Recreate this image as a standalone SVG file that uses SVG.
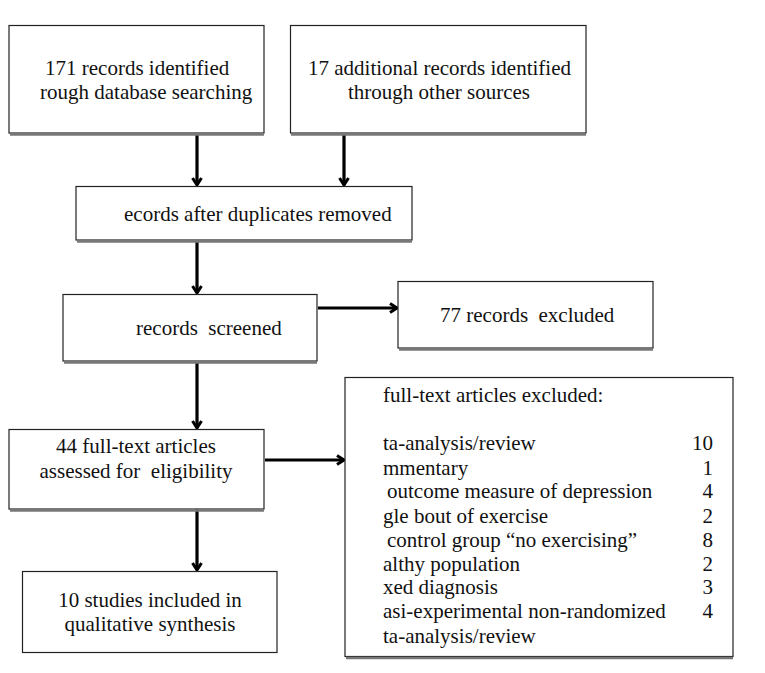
<svg xmlns="http://www.w3.org/2000/svg" width="765" height="673" viewBox="0 0 765 673">
<style>
.box{fill:#fff;stroke:#222;stroke-width:1.2}
.sh{stroke:#777;stroke-width:2.5}
.t{font-family:"Liberation Serif","Times New Roman",serif;font-size:21px;fill:#111;white-space:pre}
.c{text-anchor:middle}
.r{text-anchor:end}
.con{stroke:#000;stroke-width:3.2;fill:none}
</style>
<defs>
<marker id="ah" markerWidth="12" markerHeight="12" refX="9" refY="6" orient="auto" markerUnits="userSpaceOnUse">
<path d="M2,1.5 L9,6 L2,10.5" fill="none" stroke="#000" stroke-width="3"/>
</marker>
</defs>
<g id="connectors">
<line class="con" x1="197" y1="134" x2="197" y2="185" marker-end="url(#ah)"/>
<line class="con" x1="344" y1="134" x2="344" y2="185" marker-end="url(#ah)"/>
<line class="con" x1="197" y1="241" x2="197" y2="293" marker-end="url(#ah)"/>
<line class="con" x1="318" y1="308" x2="397" y2="308" marker-end="url(#ah)"/>
<line class="con" x1="197" y1="362" x2="197" y2="428" marker-end="url(#ah)"/>
<line class="con" x1="265" y1="460" x2="344" y2="460" marker-end="url(#ah)"/>
<line class="con" x1="197" y1="505" x2="197" y2="570" marker-end="url(#ah)"/>
</g>
<g id="n1">
<rect class="box" x="9" y="25.5" width="255" height="107.5"/>
<line class="sh" x1="10" y1="134.5" x2="264" y2="134.5"/>
<text class="t" x="45" y="75">171 records identified</text>
<text class="t" x="40" y="99">rough database searching</text>
</g>
<g id="n2">
<rect class="box" x="290.5" y="25.5" width="295.5" height="107.5"/>
<line class="sh" x1="291" y1="134.5" x2="586" y2="134.5"/>
<text class="t" x="308" y="75">17 additional records identified</text>
<text class="t" x="348" y="99">through other sources</text>
</g>
<g id="n3">
<rect class="box" x="76" y="186.5" width="336" height="53.5"/>
<line class="sh" x1="77" y1="241.5" x2="412" y2="241.5"/>
<text class="t" x="124" y="221">ecords after duplicates removed</text>
</g>
<g id="n4">
<rect class="box" x="63" y="294.5" width="254" height="66.5"/>
<line class="sh" x1="64" y1="362.5" x2="317" y2="362.5"/>
<text class="t" x="136" y="335">records  screened</text>
</g>
<g id="n5">
<rect class="box" x="398" y="281.5" width="255" height="66.5"/>
<line class="sh" x1="399" y1="349.5" x2="653" y2="349.5"/>
<text class="t" x="440" y="322">77 records  excluded</text>
</g>
<g id="n6">
<rect class="box" x="9" y="429.5" width="255" height="79.5"/>
<line class="sh" x1="10" y1="510.5" x2="264" y2="510.5"/>
<text class="t c" x="136" y="453">44 full-text articles</text>
<text class="t c" x="136" y="478">assessed for  eligibility</text>
</g>
<g id="n7">
<rect class="box" x="345" y="377.5" width="388" height="279"/>
<line class="sh" x1="346" y1="658" x2="733" y2="658"/>
<text class="t" x="383" y="402">full-text articles excluded:</text>
<text class="t" x="383" y="450">ta-analysis/review</text>
<text class="t" x="383" y="475">mmentary</text>
<text class="t" x="387" y="498">outcome measure of depression</text>
<text class="t" x="383" y="523">gle bout of exercise</text>
<text class="t" x="387" y="547">control group “no exercising”</text>
<text class="t" x="383" y="571">althy population</text>
<text class="t" x="383" y="594">xed diagnosis</text>
<text class="t" x="383" y="618">asi-experimental non-randomized</text>
<text class="t" x="383" y="643">ta-analysis/review</text>
<text class="t r" x="713" y="450">10</text>
<text class="t r" x="713" y="475">1</text>
<text class="t r" x="713" y="498">4</text>
<text class="t r" x="713" y="523">2</text>
<text class="t r" x="713" y="547">8</text>
<text class="t r" x="713" y="571">2</text>
<text class="t r" x="713" y="594">3</text>
<text class="t r" x="713" y="618">4</text>
</g>
<g id="n8">
<rect class="box" x="22.5" y="571.5" width="254.5" height="81"/>
<text class="t c" x="150" y="607">10 studies included in</text>
<text class="t c" x="150" y="631">qualitative synthesis</text>
</g>
</svg>
